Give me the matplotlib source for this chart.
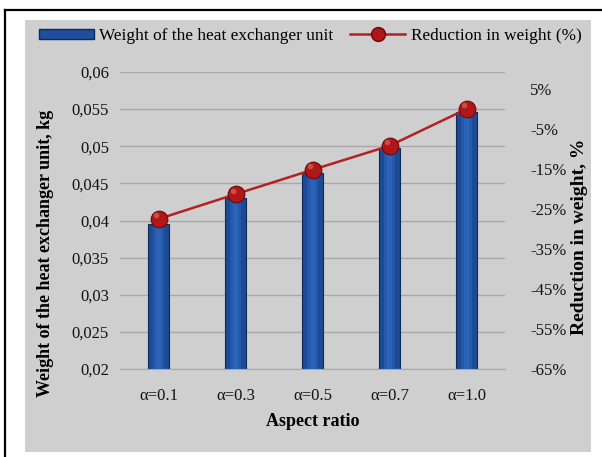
import matplotlib
matplotlib.use('Agg')
import matplotlib.pyplot as plt
from matplotlib.lines import Line2D
from matplotlib.patches import Rectangle
from matplotlib.ticker import FuncFormatter

# data
categories = ['α=0.1', 'α=0.3', 'α=0.5', 'α=0.7', 'α=1.0']
weight_kg = [0.0395, 0.0430, 0.0464, 0.0498, 0.0546]
reduction_pct = [-27.5, -21.3, -15.2, -9.2, 0.0]
left_ticks = [0.02, 0.025, 0.03, 0.035, 0.04, 0.045, 0.05, 0.055, 0.06]
right_ticks = [-65, -55, -45, -35, -25, -15, -5, 5]

plt.rcParams['font.family'] = ['Liberation Serif', 'DejaVu Serif']

W, H = 602, 457
fig = plt.figure(figsize=(W / 100, H / 100), dpi=100)
fig.patch.set_facecolor('white')

# gray chart panel and black frame lines
fig.patches.append(Rectangle((25 / W, 1 - 452 / H), (591 - 25) / W, (452 - 20) / H,
                             transform=fig.transFigure, facecolor='#cfcfcf',
                             edgecolor='none', zorder=-5))
fig.lines.append(Line2D([4.5 / W, 1], [1 - 9.5 / H, 1 - 9.5 / H],
                        transform=fig.transFigure, color='black', lw=1.6, zorder=-4))
fig.lines.append(Line2D([4.5 / W, 4.5 / W], [0, 1 - 9.5 / H],
                        transform=fig.transFigure, color='black', lw=1.6, zorder=-4))

ax = fig.add_axes([120 / W, 1 - 369 / H, (505 - 120) / W, (369 - 72) / H])
ax.set_facecolor('none')
x = list(range(len(categories)))

bars = ax.bar(x, weight_kg, width=0.28, color='#1d4a94', edgecolor='#0d2a5c',
              linewidth=0.8, zorder=2)
# simple shading to mimic the bevelled bars
for b in bars:
    ax.bar(b.get_x() + b.get_width() * 0.5, b.get_height() - 0.02, bottom=0.02,
           width=b.get_width() * 0.55, color='#2458aa', linewidth=0, zorder=3)
    ax.bar(b.get_x() + b.get_width() * 0.5, b.get_height() - 0.02, bottom=0.02,
           width=b.get_width() * 0.25, color='#2b63b9', linewidth=0, zorder=3)

ax.set_ylim(0.02, 0.06)
ax.set_xlim(-0.5, len(categories) - 0.5)
ax.set_yticks(left_ticks)
ax.yaxis.set_major_formatter(FuncFormatter(lambda v, p: f'{v:g}'.replace('.', ',')))
ax.set_xticks(x)
ax.set_xticklabels(categories)
ax.grid(axis='y', color='#a8a8a8', lw=1.0, zorder=0)
ax.set_axisbelow(True)
for s in ax.spines.values():
    s.set_visible(False)
ax.spines['bottom'].set_visible(True)
ax.spines['bottom'].set_color('#a8a8a8')
ax.tick_params(length=0, labelsize=12, colors='#111111', pad=8)
ax.tick_params(axis='x', pad=14)
ax.set_xlabel('Aspect ratio', fontsize=13, fontweight='bold', labelpad=6)
ax.set_ylabel('Weight of the heat exchanger unit, kg', fontsize=13, fontweight='bold')
ax.yaxis.set_label_coords(-0.172, 0.39)

ax2 = ax.twinx()
ax2.set_ylim(-65, 9.25)
ax2.set_yticks(right_ticks)
ax2.set_yticklabels([f'{t}%' for t in right_ticks])
ax2.plot(x, reduction_pct, color='#b52020', lw=1.8, zorder=4)
ax2.plot(x, reduction_pct, 'o', ms=12, color='#b01818', mec='#6a0808', mew=0.8, zorder=5)
ax2.plot([v - 0.03 for v in x], [r + 0.9 for r in reduction_pct], 'o', ms=4,
         color='#e07070', mew=0, alpha=0.6, zorder=6)
for s in ax2.spines.values():
    s.set_visible(False)
ax2.tick_params(length=0, labelsize=12, colors='#111111', pad=18)
ax2.set_ylabel('Reduction in weight, %', fontsize=14, fontweight='bold')
ax2.yaxis.set_label_coords(1.172, 0.444)

# legend along the top of the panel
h1 = Rectangle((0, 0), 1, 1, facecolor='#1f4f9c', edgecolor='#0d2a5c')
h2 = Line2D([], [], color='#b52020', lw=1.8, marker='o', ms=10,
            markerfacecolor='#b01818', markeredgecolor='#6a0808')
fig.legend([h1, h2], ['Weight of the heat exchanger unit', 'Reduction in weight (%)'],
           loc='center', bbox_to_anchor=(310 / W, 1 - 36 / H), ncol=2, frameon=False,
           fontsize=12.4, handlelength=3.2, handleheight=0.5, columnspacing=1.0,
           handletextpad=0.3)

fig.savefig('out.png', dpi=100)
